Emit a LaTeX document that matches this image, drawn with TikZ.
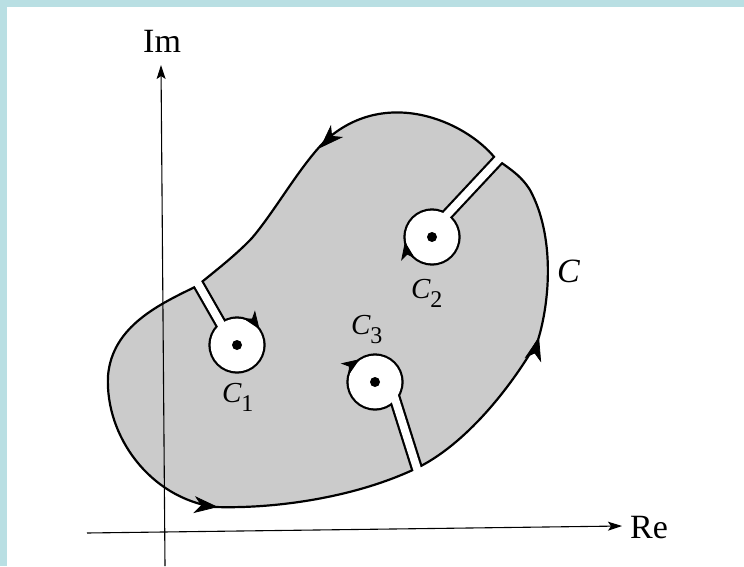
\documentclass[tikz,border=0pt]{standalone}
\usepackage{fontspec}
\setmainfont{Liberation Serif}
\usetikzlibrary{arrows.meta}
\definecolor{framecol}{RGB}{185,223,227}
\definecolor{regioncol}{RGB}{203,203,203}
\newcommand{\Csub}[1]{\textit{C}\kern-0.5pt\raisebox{-9pt}{\fontsize{24}{24}\selectfont #1}}
\begin{document}
\begin{tikzpicture}[x=1pt,y=1pt,
  bnd/.style={line width=2.2pt},
  axisline/.style={line width=1.1pt,-{Stealth[length=14pt,width=9pt,inset=3pt]}},
  bigtip/.style={line width=0.8pt,-{Stealth[length=24pt,width=17pt,inset=7pt]}},
  smalltip/.style={line width=0.8pt,-{Stealth[length=18pt,width=14pt,inset=5pt]}},
  lab/.style={font=\fontsize{34}{34}\selectfont,anchor=base west,inner sep=0pt},
  sublab/.style={font=\fontsize{29}{29}\selectfont,anchor=base west,inner sep=0pt}
]
\useasboundingbox (0,0) rectangle (744,566);
\fill[white] (0,0) rectangle (744,566);
\fill[framecol] (0,559) rectangle (744,566);
\fill[framecol] (0,0) rectangle (7,566);

% outer region
\draw[bnd,fill=regioncol]
 (495,408) .. controls (465,445) and (385,480) .. (325,425)
 .. controls (300,400) and (275,355) .. (252,328)
 .. controls (235,310) and (215,295) .. (197,280)
 .. controls (160,262) and (112,240) .. (108,190)
 .. controls (105,130) and (150,68) .. (215,59)
 .. controls (280,57) and (360,70) .. (419,99)
 .. controls (470,125) and (515,185) .. (538,226)
 .. controls (550,265) and (555,330) .. (530,376)
 .. controls (520,392) and (508,398) .. cycle;

% keyholes: black outline clipped to the region
\begin{scope}
 \clip
 (495,408) .. controls (465,445) and (385,480) .. (325,425)
 .. controls (300,400) and (275,355) .. (252,328)
 .. controls (235,310) and (215,295) .. (197,280)
 .. controls (160,262) and (112,240) .. (108,190)
 .. controls (105,130) and (150,68) .. (215,59)
 .. controls (280,57) and (360,70) .. (419,99)
 .. controls (470,125) and (515,185) .. (538,226)
 .. controls (550,265) and (555,330) .. (530,376)
 .. controls (520,392) and (508,398) .. cycle;
 \foreach \cx/\cy/\sx/\sy/\ex/\ey in {237/221/233/221/191.6/293.5, 432/329/426.2/329/506.9/415.4, 375/184/389.6/184/421.4/83.4}{
   \fill[black] (\cx,\cy) circle (28.6);
   \draw[line width=12.2pt] (\sx,\sy) -- (\ex,\ey);
 }
\end{scope}
\foreach \cx/\cy/\sx/\sy/\ex/\ey in {237/221/233/221/191.6/293.5, 432/329/426.2/329/506.9/415.4, 375/184/389.6/184/421.4/83.4}{
  \fill[white] (\cx,\cy) circle (26.4);
  \draw[white,line width=7.8pt] (\sx,\sy) -- (\ex,\ey);
  \fill[black] (\cx,\cy) circle (5);
}

% arrows on the outer contour C
\draw[bigtip] (321.4,419.4) -- (320,418);
\draw[bigtip] (216,59.2) -- (218,59);
\draw[bigtip] (538.5,227.1) -- (539,229);

% arrows on the small circles (clockwise)
\draw[smalltip] (237,221) ++(35:27.5) ++(125:1) -- ++(-55:1);
\draw[smalltip] (432,329) ++(190:27.5) ++(280:1) -- ++(100:1);
\draw[smalltip] (375,184) ++(124:27.5) ++(214:1) -- ++(34:1);

% axes
\coordinate (ybot) at (165,0);
\coordinate (ytop) at (161,501);
\coordinate (xleft) at (87,33);
\coordinate (xright) at (622,40);
\draw[axisline] (ybot) -- (ytop);
\draw[axisline] (xleft) -- (xright);

% labels
\node[lab] (im) at (143,513) {Im};
\node[lab] (re) at (630,28) {Re};
\node[lab] (cmain) at (557,284) {\textit{C}};
\node[sublab] (c1) at (222,164) {\Csub{1}};
\node[sublab] (c2) at (411,268) {\Csub{2}};
\node[sublab] (c3) at (351,232) {\Csub{3}};
\end{tikzpicture}
\end{document}
